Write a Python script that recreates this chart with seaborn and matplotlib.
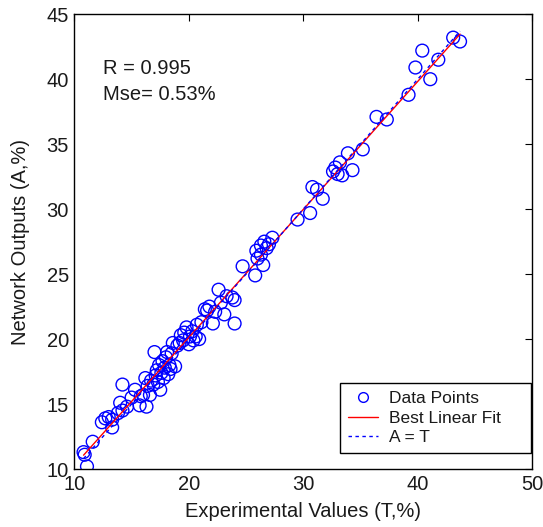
import numpy as np
import pandas as pd
import matplotlib
matplotlib.use("Agg")
import matplotlib.pyplot as plt
from matplotlib.lines import Line2D
import seaborn as sns

# Experimental values (T, %) and network outputs (A, %)
experimental = [10.8, 10.9, 11.1, 11.6, 12.4, 12.7, 13.0, 13.3, 13.3, 13.8, 14.0, 14.2, 14.2, 14.6,
                15.0, 15.3, 15.7, 15.8, 16.0, 16.3, 16.2, 16.4, 16.6, 16.7, 16.9, 17.0, 17.1, 17.2,
                17.3, 17.4, 17.5, 17.6, 17.7, 17.8, 17.9, 18.0, 18.1, 18.2, 18.3, 18.4, 18.5, 18.6,
                18.8, 19.0, 19.2, 19.3, 19.5, 19.6, 19.8, 20.0, 20.1, 20.3, 20.4, 20.6, 20.7, 20.9,
                21.1, 21.4, 21.6, 21.8, 22.1, 22.3, 22.6, 22.8, 23.1, 23.3, 23.8, 24.0, 24.0, 24.7,
                25.8, 25.9, 26.0, 26.3, 26.3, 26.5, 26.6, 26.8, 27.0, 27.3, 29.5, 30.6, 30.8, 31.2,
                31.7, 32.6, 32.8, 33.0, 33.2, 33.4, 33.9, 34.3, 35.2, 36.4, 37.3, 39.2, 39.8, 40.4,
                41.1, 41.8, 43.1, 43.7]
network = [11.3, 11.1, 10.2, 12.1, 13.6, 13.9, 14.0, 13.2, 13.8, 14.3, 15.1, 16.5, 14.5, 14.8,
           15.5, 16.1, 14.9, 15.6, 15.7, 14.8, 17.0, 16.4, 15.7, 16.8, 16.5, 19.0, 17.2, 17.6,
           16.7, 18.0, 16.1, 17.4, 18.3, 17.0, 17.8, 18.6, 19.0, 17.3, 18.0, 17.7, 18.9, 19.7,
           17.9, 19.5, 19.7, 20.3, 19.9, 20.5, 20.9, 19.6, 20.2, 20.6, 19.9, 20.2, 21.1, 20.0,
           21.3, 22.3, 22.2, 22.5, 21.2, 22.1, 23.8, 22.8, 21.9, 23.3, 23.2, 21.2, 23.0, 25.6,
           24.9, 26.8, 26.2, 26.5, 27.2, 25.7, 27.5, 27.0, 27.3, 27.8, 29.2, 29.7, 31.7, 31.5,
           30.8, 32.9, 33.2, 32.7, 33.6, 32.6, 34.3, 33.0, 34.6, 37.1, 36.9, 38.8, 40.9, 42.2,
           40.0, 41.5, 43.2, 42.9]

x_ticks = [10, 20, 30, 40, 50]
y_ticks = [10, 15, 20, 25, 30, 35, 40, 45]
stats_text = ["R = 0.995", "Mse= 0.53%"]
legend_labels = ["Data Points", "Best Linear Fit", "A = T"]

df = pd.DataFrame({"T": experimental, "A": network})
slope, intercept = np.polyfit(df["T"], df["A"], 1)
t_range = np.array([df["T"].min(), df["T"].max()])
fit_df = pd.DataFrame({"T": t_range, "A": slope * t_range + intercept})
ident_df = pd.DataFrame({"T": t_range, "A": t_range})

sns.set_style("white")
plt.rcParams["font.family"] = ["Liberation Sans", "DejaVu Sans"]
txt_color = "#1a1a1a"

fig = plt.figure(figsize=(5.43, 5.27), dpi=100)
ax = fig.add_axes([0.137, 0.110, 0.843, 0.863])

sns.scatterplot(data=df, x="T", y="A", ax=ax, marker="o", s=85,
                facecolor="none", edgecolor="blue", linewidth=1.0, zorder=2)
sns.lineplot(data=fit_df, x="T", y="A", ax=ax, color="red", linewidth=1.0, zorder=3)
sns.lineplot(data=ident_df, x="T", y="A", ax=ax, color="blue", linewidth=1.0,
             linestyle=(0, (2.5, 2.5)), zorder=4)

ax.set_xlim(10, 50)
ax.set_ylim(10, 45)
ax.set_xticks(x_ticks)
ax.set_yticks(y_ticks)
ax.tick_params(direction="in", length=5, width=0.8, top=True, right=True,
               labelsize=14.5, colors="black", labelcolor=txt_color, pad=4)
for s in ax.spines.values():
    s.set_color("black")
    s.set_linewidth(1.0)
ax.set_xlabel("Experimental Values (T,%)", fontsize=14.5, labelpad=6, color=txt_color)
ax.set_ylabel("Network Outputs (A,%)", fontsize=14.5, labelpad=12, color=txt_color)

ax.text(12.5, 40.85, stats_text[0], fontsize=14.5, ha="left", va="center", color=txt_color)
ax.text(12.5, 38.8, stats_text[1], fontsize=14.5, ha="left", va="center", color=txt_color)

handles = [
    Line2D([0], [0], marker="o", linestyle="none", markerfacecolor="none",
           markeredgecolor="blue", markersize=7, markeredgewidth=1.0),
    Line2D([0], [0], color="red", linewidth=1.0),
    Line2D([0], [0], color="blue", linewidth=1.0, linestyle=(0, (2.5, 2.5))),
]
leg = ax.legend(handles, legend_labels, loc="lower left", mode="expand", fontsize=12.5,
                frameon=True, fancybox=False, shadow=False, framealpha=1,
                edgecolor="black", borderpad=0.45, labelspacing=0.25,
                handlelength=1.75, handletextpad=0.65, borderaxespad=0.0,
                bbox_to_anchor=(0.580, 0.035, 0.417, 0.154))
leg.get_frame().set_linewidth(1.0)
for t in leg.get_texts():
    t.set_color(txt_color)

fig.savefig("out.png", dpi=100)
